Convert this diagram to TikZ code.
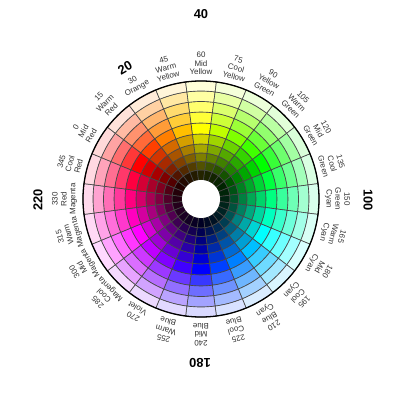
\documentclass[tikz,border=0pt]{standalone}
\usepackage{fontspec}
\setmainfont{Liberation Sans}
\tikzset{
  cell/.style={draw=black!72,line width=0.55pt},
  huelabel/.style={font=\fontsize{6.8}{7.6}\selectfont,text=black!80,align=center,inner sep=0.6pt,anchor=south},
  bignum/.style={font=\fontsize{11}{13}\selectfont\bfseries,inner sep=0pt}
}
\begin{document}
\begin{tikzpicture}[scale=0.03]
\useasboundingbox (-201,-201) rectangle (199,199);
% 24 hue sectors, 10 rings from dark to pale
\foreach \h in {0,15,...,345} {
  \definecolor{hx}{Hsb}{\h,1,1}
  \colorlet{hc}[rgb]{hx}
  \pgfmathsetmacro{\aa}{150-\h-7.5}
  \pgfmathsetmacro{\ab}{150-\h+7.5}
  \foreach \ri/\ro/\mix in {19/29/hc!14!black, 29/37.5/hc!32!black, 37.5/46/hc!50!black, 46/55/hc!66!black, 55/65/hc!83!black, 65/76/hc, 76/87/hc!78!white, 87/97.5/hc!57!white, 97.5/108/hc!36!white, 108/118/hc!15!white}
    \filldraw[cell,fill=\mix] (\aa:\ri) arc[start angle=\aa,end angle=\ab,radius=\ri] -- (\ab:\ro) arc[start angle=\ab,end angle=\aa,radius=\ro] -- cycle;
}
\draw[line width=1.1pt] (0,0) circle[radius=118];
\fill[white] (0,0) circle[radius=19];
% names of the hues
\foreach \h/\txt in {0/{0\\Mid\\Red}, 15/{15\\Warm\\Red}, 30/{30\\Orange}, 45/{45\\Warm\\Yellow},
  60/{60\\Mid\\Yellow}, 75/{75\\Cool\\Yellow}, 90/{90\\Yellow\\Green}, 105/{105\\Warm\\Green},
  120/{120\\Mid\\Green}, 135/{135\\Cool\\Green}, 150/{150\\Green\\Cyan}, 165/{165\\Warm\\Cyan},
  180/{180\\Mid\\Cyan}, 195/{195\\Cool\\Cyan}, 210/{210\\Blue\\Cyan}, 225/{225\\Cool\\Blue},
  240/{240\\Mid\\Blue}, 255/{255\\Warm\\Blue}, 270/{270\\Violet}, 285/{285\\Cool\\Magenta},
  300/{300\\Mid\\Magenta}, 315/{315\\Warm\\Magenta}, 330/{330\\Red\\Magenta}, 345/{345\\Cool\\Red}}
  \node[huelabel,rotate={60-\h}] (lab\h) at ({150-\h}:123) {\txt};
\node[bignum] (n40) at (0,185) {40};
\node[bignum,rotate=30] (n20) at (-76,131) {20};
\node[bignum,rotate=-90] (n100) at (167,-1) {100};
\node[bignum,rotate=180] (n180) at (-1,-164) {180};
\node[bignum,rotate=90] (n220) at (-163,-1) {220};
\end{tikzpicture}
\end{document}
